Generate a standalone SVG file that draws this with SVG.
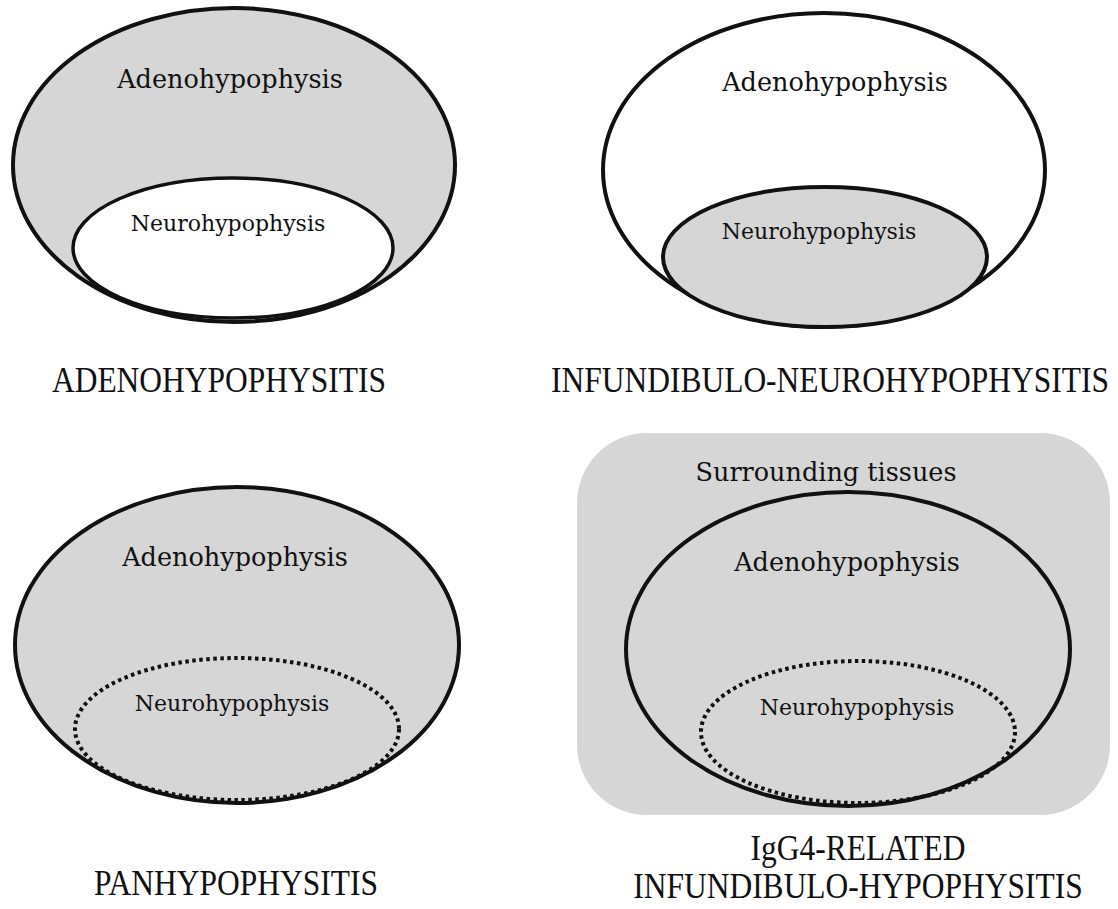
<svg xmlns="http://www.w3.org/2000/svg" width="1118" height="909" viewBox="0 0 1118 909">
<style>
.gray{fill:#d6d6d6}
.white{fill:#ffffff}
.solid{stroke:#111;stroke-width:4;}
.thin{stroke:#111;stroke-width:3.5;}
.dotted{fill:none;stroke:#111;stroke-width:4;stroke-dasharray:3.5 3.5;}
.part{font-family:"DejaVu Serif","Liberation Serif",serif;fill:#111;text-anchor:middle}
.big{font-size:25.5px}
.small{font-size:22px}
.label{font-family:"Liberation Serif","Times New Roman",serif;font-size:31.5px;fill:#111;text-anchor:middle}
</style>
<rect width="1118" height="909" fill="#fff"/>

<g id="panel-adenohypophysitis">
  <ellipse class="gray solid" cx="234" cy="165" rx="221" ry="157"/>
  <ellipse class="white thin" cx="233" cy="248" rx="160" ry="70"/>
  <text class="part big" x="230" y="88">Adenohypophysis</text>
  <text class="part small" x="228" y="231">Neurohypophysis</text>
  <text class="label" transform="translate(219,392) scale(1,1.12)">ADENOHYPOPHYSITIS</text>
</g>

<g id="panel-infundibulo-neurohypophysitis">
  <ellipse class="white solid" cx="824" cy="170" rx="221" ry="157"/>
  <ellipse class="gray solid" cx="825" cy="257" rx="162" ry="70"/>
  <text class="part big" x="835" y="91">Adenohypophysis</text>
  <text class="part small" x="819" y="239">Neurohypophysis</text>
  <text class="label" transform="translate(830,392) scale(1,1.12)">INFUNDIBULO-NEUROHYPOPHYSITIS</text>
</g>

<g id="panel-panhypophysitis">
  <ellipse class="gray solid" cx="237" cy="645" rx="222" ry="158"/>
  <ellipse class="dotted" cx="237" cy="729" rx="162" ry="71"/>
  <text class="part big" x="235" y="566">Adenohypophysis</text>
  <text class="part small" x="232" y="711">Neurohypophysis</text>
  <text class="label" transform="translate(236,895) scale(1,1.12)">PANHYPOPHYSITIS</text>
</g>

<g id="panel-igg4">
  <rect class="gray" x="577" y="433" width="533" height="382" rx="70" ry="70"/>
  <ellipse class="solid" fill="none" cx="848" cy="649" rx="222" ry="157"/>
  <ellipse class="dotted" cx="858" cy="732" rx="157" ry="71"/>
  <text class="part big" x="826" y="481">Surrounding tissues</text>
  <text class="part big" x="847" y="571">Adenohypophysis</text>
  <text class="part small" x="857" y="715">Neurohypophysis</text>
  <text class="label" transform="translate(858,860) scale(1,1.12)">IgG4-RELATED</text>
  <text class="label" transform="translate(858,898) scale(1,1.12)">INFUNDIBULO-HYPOPHYSITIS</text>
</g>

<g id="connectors"></g>
</svg>
